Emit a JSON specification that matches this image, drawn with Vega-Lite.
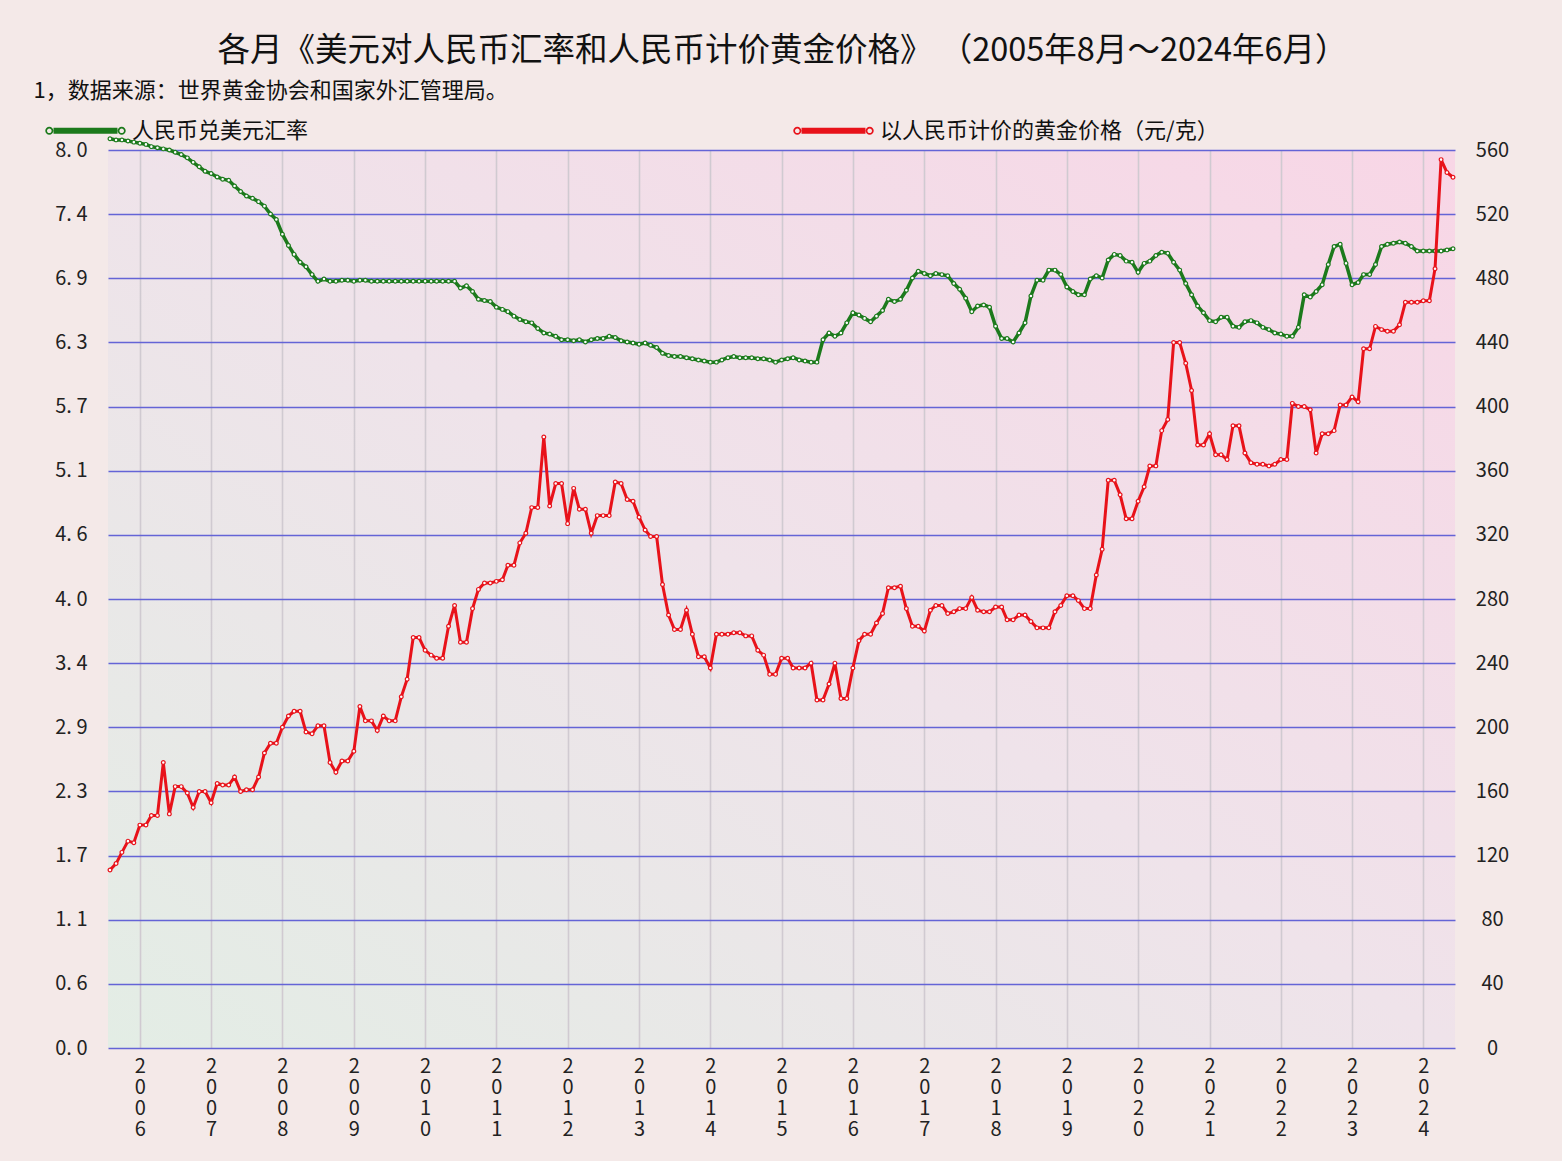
{
  "$schema": "https://vega.github.io/schema/vega-lite/v6.json",
  "width": 1347,
  "height": 898,
  "autosize": {"type": "none"},
  "padding": {"left": 108, "top": 150, "right": 107, "bottom": 113},
  "background": "#f4e9e8",
  "title": {
    "text": "各月《美元对人民币汇率和人民币计价黄金价格》 （2005年8月～2024年6月）",
    "fontSize": 32.5,
    "fontWeight": "normal",
    "color": "#111111",
    "anchor": "middle",
    "dx": 1,
    "offset": 12
  },
  "data": {
    "values": [
      {"d": "2005-08", "r": 8.10, "g": 111}, {"d": "2005-09", "r": 8.09, "g": 115}, {"d": "2005-10", "r": 8.09, "g": 122},
      {"d": "2005-11", "r": 8.08, "g": 129}, {"d": "2005-12", "r": 8.07, "g": 128},
      {"d": "2006-01", "r": 8.06, "g": 139}, {"d": "2006-02", "r": 8.05, "g": 139}, {"d": "2006-03", "r": 8.03, "g": 145},
      {"d": "2006-04", "r": 8.02, "g": 145}, {"d": "2006-05", "r": 8.01, "g": 178}, {"d": "2006-06", "r": 8.00, "g": 146},
      {"d": "2006-07", "r": 7.98, "g": 163}, {"d": "2006-08", "r": 7.96, "g": 163}, {"d": "2006-09", "r": 7.93, "g": 159},
      {"d": "2006-10", "r": 7.89, "g": 150}, {"d": "2006-11", "r": 7.85, "g": 160}, {"d": "2006-12", "r": 7.81, "g": 160},
      {"d": "2007-01", "r": 7.79, "g": 153}, {"d": "2007-02", "r": 7.76, "g": 165}, {"d": "2007-03", "r": 7.74, "g": 164},
      {"d": "2007-04", "r": 7.73, "g": 164}, {"d": "2007-05", "r": 7.68, "g": 169}, {"d": "2007-06", "r": 7.63, "g": 160},
      {"d": "2007-07", "r": 7.59, "g": 161}, {"d": "2007-08", "r": 7.57, "g": 161}, {"d": "2007-09", "r": 7.54, "g": 169},
      {"d": "2007-10", "r": 7.50, "g": 184}, {"d": "2007-11", "r": 7.43, "g": 190}, {"d": "2007-12", "r": 7.38, "g": 190},
      {"d": "2008-01", "r": 7.25, "g": 200}, {"d": "2008-02", "r": 7.15, "g": 207}, {"d": "2008-03", "r": 7.07, "g": 210},
      {"d": "2008-04", "r": 7.00, "g": 210}, {"d": "2008-05", "r": 6.96, "g": 197}, {"d": "2008-06", "r": 6.89, "g": 196},
      {"d": "2008-07", "r": 6.83, "g": 201}, {"d": "2008-08", "r": 6.85, "g": 201}, {"d": "2008-09", "r": 6.83, "g": 178},
      {"d": "2008-10", "r": 6.83, "g": 172}, {"d": "2008-11", "r": 6.84, "g": 179}, {"d": "2008-12", "r": 6.84, "g": 179},
      {"d": "2009-01", "r": 6.83, "g": 185}, {"d": "2009-02", "r": 6.84, "g": 213}, {"d": "2009-03", "r": 6.84, "g": 204},
      {"d": "2009-04", "r": 6.83, "g": 204}, {"d": "2009-05", "r": 6.83, "g": 198}, {"d": "2009-06", "r": 6.83, "g": 207},
      {"d": "2009-07", "r": 6.83, "g": 204}, {"d": "2009-08", "r": 6.83, "g": 204}, {"d": "2009-09", "r": 6.83, "g": 219},
      {"d": "2009-10", "r": 6.83, "g": 230}, {"d": "2009-11", "r": 6.83, "g": 256}, {"d": "2009-12", "r": 6.83, "g": 256},
      {"d": "2010-01", "r": 6.83, "g": 248}, {"d": "2010-02", "r": 6.83, "g": 245}, {"d": "2010-03", "r": 6.83, "g": 243},
      {"d": "2010-04", "r": 6.83, "g": 243}, {"d": "2010-05", "r": 6.83, "g": 263}, {"d": "2010-06", "r": 6.83, "g": 276},
      {"d": "2010-07", "r": 6.77, "g": 253}, {"d": "2010-08", "r": 6.79, "g": 253}, {"d": "2010-09", "r": 6.74, "g": 274},
      {"d": "2010-10", "r": 6.67, "g": 286}, {"d": "2010-11", "r": 6.66, "g": 290}, {"d": "2010-12", "r": 6.65, "g": 290},
      {"d": "2011-01", "r": 6.60, "g": 291}, {"d": "2011-02", "r": 6.58, "g": 292}, {"d": "2011-03", "r": 6.56, "g": 301},
      {"d": "2011-04", "r": 6.52, "g": 301}, {"d": "2011-05", "r": 6.49, "g": 315}, {"d": "2011-06", "r": 6.47, "g": 321},
      {"d": "2011-07", "r": 6.46, "g": 337}, {"d": "2011-08", "r": 6.41, "g": 337}, {"d": "2011-09", "r": 6.37, "g": 381},
      {"d": "2011-10", "r": 6.36, "g": 338}, {"d": "2011-11", "r": 6.34, "g": 352}, {"d": "2011-12", "r": 6.31, "g": 352},
      {"d": "2012-01", "r": 6.31, "g": 327}, {"d": "2012-02", "r": 6.30, "g": 349}, {"d": "2012-03", "r": 6.31, "g": 336},
      {"d": "2012-04", "r": 6.29, "g": 336}, {"d": "2012-05", "r": 6.31, "g": 321}, {"d": "2012-06", "r": 6.32, "g": 332},
      {"d": "2012-07", "r": 6.32, "g": 332}, {"d": "2012-08", "r": 6.34, "g": 332}, {"d": "2012-09", "r": 6.33, "g": 353},
      {"d": "2012-10", "r": 6.30, "g": 352}, {"d": "2012-11", "r": 6.29, "g": 342}, {"d": "2012-12", "r": 6.28, "g": 341},
      {"d": "2013-01", "r": 6.27, "g": 331}, {"d": "2013-02", "r": 6.28, "g": 323}, {"d": "2013-03", "r": 6.26, "g": 319},
      {"d": "2013-04", "r": 6.24, "g": 319}, {"d": "2013-05", "r": 6.19, "g": 289}, {"d": "2013-06", "r": 6.17, "g": 270},
      {"d": "2013-07", "r": 6.16, "g": 261}, {"d": "2013-08", "r": 6.16, "g": 261}, {"d": "2013-09", "r": 6.15, "g": 273},
      {"d": "2013-10", "r": 6.14, "g": 258}, {"d": "2013-11", "r": 6.13, "g": 244}, {"d": "2013-12", "r": 6.12, "g": 244},
      {"d": "2014-01", "r": 6.11, "g": 237}, {"d": "2014-02", "r": 6.11, "g": 258}, {"d": "2014-03", "r": 6.13, "g": 258},
      {"d": "2014-04", "r": 6.15, "g": 258}, {"d": "2014-05", "r": 6.16, "g": 259}, {"d": "2014-06", "r": 6.15, "g": 259},
      {"d": "2014-07", "r": 6.15, "g": 257}, {"d": "2014-08", "r": 6.15, "g": 257}, {"d": "2014-09", "r": 6.14, "g": 248},
      {"d": "2014-10", "r": 6.14, "g": 245}, {"d": "2014-11", "r": 6.13, "g": 233}, {"d": "2014-12", "r": 6.11, "g": 233},
      {"d": "2015-01", "r": 6.13, "g": 243}, {"d": "2015-02", "r": 6.14, "g": 243}, {"d": "2015-03", "r": 6.15, "g": 237},
      {"d": "2015-04", "r": 6.13, "g": 237}, {"d": "2015-05", "r": 6.12, "g": 237}, {"d": "2015-06", "r": 6.11, "g": 240},
      {"d": "2015-07", "r": 6.11, "g": 217}, {"d": "2015-08", "r": 6.31, "g": 217}, {"d": "2015-09", "r": 6.37, "g": 227},
      {"d": "2015-10", "r": 6.34, "g": 240}, {"d": "2015-11", "r": 6.37, "g": 218}, {"d": "2015-12", "r": 6.46, "g": 218},
      {"d": "2016-01", "r": 6.55, "g": 237}, {"d": "2016-02", "r": 6.53, "g": 254}, {"d": "2016-03", "r": 6.50, "g": 258},
      {"d": "2016-04", "r": 6.47, "g": 258}, {"d": "2016-05", "r": 6.52, "g": 265}, {"d": "2016-06", "r": 6.57, "g": 271},
      {"d": "2016-07", "r": 6.67, "g": 287}, {"d": "2016-08", "r": 6.65, "g": 287}, {"d": "2016-09", "r": 6.67, "g": 288},
      {"d": "2016-10", "r": 6.75, "g": 274}, {"d": "2016-11", "r": 6.86, "g": 263}, {"d": "2016-12", "r": 6.92, "g": 263},
      {"d": "2017-01", "r": 6.90, "g": 260}, {"d": "2017-02", "r": 6.88, "g": 273}, {"d": "2017-03", "r": 6.90, "g": 276},
      {"d": "2017-04", "r": 6.89, "g": 276}, {"d": "2017-05", "r": 6.88, "g": 271}, {"d": "2017-06", "r": 6.81, "g": 272},
      {"d": "2017-07", "r": 6.76, "g": 274}, {"d": "2017-08", "r": 6.68, "g": 274}, {"d": "2017-09", "r": 6.56, "g": 281},
      {"d": "2017-10", "r": 6.61, "g": 273}, {"d": "2017-11", "r": 6.62, "g": 272}, {"d": "2017-12", "r": 6.60, "g": 272},
      {"d": "2018-01", "r": 6.43, "g": 275}, {"d": "2018-02", "r": 6.32, "g": 275}, {"d": "2018-03", "r": 6.32, "g": 267},
      {"d": "2018-04", "r": 6.29, "g": 267}, {"d": "2018-05", "r": 6.37, "g": 270}, {"d": "2018-06", "r": 6.46, "g": 270},
      {"d": "2018-07", "r": 6.70, "g": 266}, {"d": "2018-08", "r": 6.84, "g": 262}, {"d": "2018-09", "r": 6.84, "g": 262},
      {"d": "2018-10", "r": 6.93, "g": 262}, {"d": "2018-11", "r": 6.93, "g": 272}, {"d": "2018-12", "r": 6.89, "g": 276},
      {"d": "2019-01", "r": 6.78, "g": 282}, {"d": "2019-02", "r": 6.74, "g": 282}, {"d": "2019-03", "r": 6.71, "g": 279},
      {"d": "2019-04", "r": 6.71, "g": 274}, {"d": "2019-05", "r": 6.85, "g": 274}, {"d": "2019-06", "r": 6.88, "g": 295},
      {"d": "2019-07", "r": 6.86, "g": 311}, {"d": "2019-08", "r": 7.02, "g": 354}, {"d": "2019-09", "r": 7.07, "g": 354},
      {"d": "2019-10", "r": 7.06, "g": 345}, {"d": "2019-11", "r": 7.01, "g": 330}, {"d": "2019-12", "r": 7.00, "g": 330},
      {"d": "2020-01", "r": 6.91, "g": 341}, {"d": "2020-02", "r": 6.99, "g": 350}, {"d": "2020-03", "r": 7.01, "g": 363},
      {"d": "2020-04", "r": 7.06, "g": 363}, {"d": "2020-05", "r": 7.09, "g": 385}, {"d": "2020-06", "r": 7.08, "g": 392},
      {"d": "2020-07", "r": 7.00, "g": 440}, {"d": "2020-08", "r": 6.93, "g": 440}, {"d": "2020-09", "r": 6.81, "g": 427},
      {"d": "2020-10", "r": 6.71, "g": 410}, {"d": "2020-11", "r": 6.61, "g": 376}, {"d": "2020-12", "r": 6.55, "g": 376},
      {"d": "2021-01", "r": 6.48, "g": 383}, {"d": "2021-02", "r": 6.47, "g": 370}, {"d": "2021-03", "r": 6.51, "g": 370},
      {"d": "2021-04", "r": 6.51, "g": 367}, {"d": "2021-05", "r": 6.43, "g": 388}, {"d": "2021-06", "r": 6.42, "g": 388},
      {"d": "2021-07", "r": 6.47, "g": 371}, {"d": "2021-08", "r": 6.48, "g": 365}, {"d": "2021-09", "r": 6.46, "g": 364},
      {"d": "2021-10", "r": 6.42, "g": 364}, {"d": "2021-11", "r": 6.40, "g": 363}, {"d": "2021-12", "r": 6.37, "g": 364},
      {"d": "2022-01", "r": 6.36, "g": 367}, {"d": "2022-02", "r": 6.34, "g": 367}, {"d": "2022-03", "r": 6.34, "g": 402},
      {"d": "2022-04", "r": 6.42, "g": 400}, {"d": "2022-05", "r": 6.71, "g": 400}, {"d": "2022-06", "r": 6.69, "g": 398},
      {"d": "2022-07", "r": 6.74, "g": 371}, {"d": "2022-08", "r": 6.80, "g": 383}, {"d": "2022-09", "r": 6.98, "g": 383},
      {"d": "2022-10", "r": 7.14, "g": 385}, {"d": "2022-11", "r": 7.16, "g": 401}, {"d": "2022-12", "r": 6.99, "g": 401},
      {"d": "2023-01", "r": 6.80, "g": 406}, {"d": "2023-02", "r": 6.82, "g": 403}, {"d": "2023-03", "r": 6.89, "g": 436},
      {"d": "2023-04", "r": 6.89, "g": 436}, {"d": "2023-05", "r": 6.98, "g": 450}, {"d": "2023-06", "r": 7.14, "g": 448},
      {"d": "2023-07", "r": 7.16, "g": 447}, {"d": "2023-08", "r": 7.17, "g": 447}, {"d": "2023-09", "r": 7.18, "g": 451},
      {"d": "2023-10", "r": 7.17, "g": 465}, {"d": "2023-11", "r": 7.14, "g": 465}, {"d": "2023-12", "r": 7.10, "g": 465},
      {"d": "2024-01", "r": 7.10, "g": 466}, {"d": "2024-02", "r": 7.10, "g": 466}, {"d": "2024-03", "r": 7.10, "g": 486},
      {"d": "2024-04", "r": 7.10, "g": 554}, {"d": "2024-05", "r": 7.11, "g": 546}, {"d": "2024-06", "r": 7.12, "g": 543}
    ]
  },
  "encoding": {
    "x": {
      "field": "d",
      "type": "temporal",
      "scale": {
        "type": "utc",
        "domain": [
          {"year": 2005, "month": 8, "date": 1, "utc": true},
          {"year": 2024, "month": 6, "date": 1, "utc": true}
        ],
        "padding": 2
      },
      "axis": {
        "title": null,
        "tickCount": {"interval": "year", "step": 1},
        "grid": true,
        "gridColor": "#d0cad1",
        "gridWidth": 1.6,
        "labelExpr": "split(utcFormat(datum.value, '%Y'), '')",
        "labelLineHeight": 21,
        "labelPadding": 8,
        "labelBaseline": "top",
        "labelAlign": "center",
        "labelAngle": 0,
        "labelFlush": false,
        "labelOverlap": false
      }
    }
  },
  "layer": [
    {
      "mark": {
        "type": "line",
        "strokeWidth": 3.5,
        "point": {"filled": false, "fill": "#ffffff", "size": 14, "strokeWidth": 1.2}
      },
      "encoding": {
        "y": {
          "field": "r",
          "type": "quantitative",
          "scale": {"domain": [0, 8], "nice": false, "zero": true},
          "axis": {
            "values": [0, 0.5714286, 1.1428571, 1.7142857, 2.2857143, 2.8571429, 3.4285714, 4, 4.5714286, 5.1428571, 5.7142857, 6.2857143, 6.8571429, 7.4285714, 8],
            "labelExpr": "replace(format(datum.value, '.1f'), '.', '. ')",
            "grid": true,
            "gridColor": "#6464d6",
            "gridWidth": 1.3,
            "labelPadding": 21,
            "title": "1，数据来源：世界黄金协会和国家外汇管理局。",
            "titleAngle": 0,
            "titleX": -75,
            "titleY": -60,
            "titleAlign": "left",
            "titleBaseline": "middle",
            "titleFontSize": 22,
            "titleFontWeight": "normal",
            "titleColor": "#111111"
          }
        },
        "color": {
          "datum": "人民币兑美元汇率",
          "type": "nominal",
          "scale": {
            "domain": ["人民币兑美元汇率", "以人民币计价的黄金价格（元/克）"],
            "range": ["#1c7a1c", "#e8121a"]
          },
          "legend": {
            "title": null,
            "orient": "none",
            "legendX": -61,
            "legendY": -58,
            "direction": "horizontal",
            "symbolType": "M-0.83,-0.075H0.83V0.075H-0.83Z M-0.94,-0.105A0.105,0.105 0 1,1 -0.94,0.105A0.105,0.105 0 1,1 -0.94,-0.105Z M-0.94,-0.06A0.06,0.06 0 1,0 -0.94,0.06A0.06,0.06 0 1,0 -0.94,-0.06Z M0.94,-0.105A0.105,0.105 0 1,1 0.94,0.105A0.105,0.105 0 1,1 0.94,-0.105Z M0.94,-0.06A0.06,0.06 0 1,0 0.94,0.06A0.06,0.06 0 1,0 0.94,-0.06Z",
            "symbolSize": 5929,
            "symbolStrokeWidth": 0,
            "labelFontSize": 22,
            "labelColor": "#111111",
            "labelOffset": 8,
            "labelLimit": 600,
            "columnPadding": 484,
            "padding": 0,
            "encode": {
              "symbols": {
                "update": {
                  "fill": {"scale": "color", "field": "value"},
                  "strokeWidth": {"value": 0}
                }
              }
            }
          }
        }
      }
    },
    {
      "mark": {
        "type": "line",
        "strokeWidth": 3,
        "point": {"filled": false, "fill": "#ffffff", "size": 14, "strokeWidth": 1.2}
      },
      "encoding": {
        "y": {
          "field": "g",
          "type": "quantitative",
          "scale": {"domain": [0, 560], "nice": false},
          "axis": {
            "orient": "right",
            "values": [0, 40, 80, 120, 160, 200, 240, 280, 320, 360, 400, 440, 480, 520, 560],
            "grid": false,
            "labelAlign": "center",
            "labelPadding": 37,
            "title": null
          }
        },
        "color": {"datum": "以人民币计价的黄金价格（元/克）", "type": "nominal"}
      }
    }
  ],
  "resolve": {"scale": {"y": "independent"}},
  "config": {
    "font": "Noto Sans CJK SC",
    "view": {
      "stroke": null,
      "fill": {
        "gradient": "linear",
        "x1": 0, "y1": 1, "x2": 1, "y2": 0,
        "stops": [
          {"offset": 0, "color": "#e3ede5"},
          {"offset": 0.5, "color": "#efe3ea"},
          {"offset": 1, "color": "#f8d6e6"}
        ]
      }
    },
    "axis": {
      "domain": false,
      "ticks": false,
      "labelFontSize": 20,
      "labelColor": "#222222"
    }
  }
}
